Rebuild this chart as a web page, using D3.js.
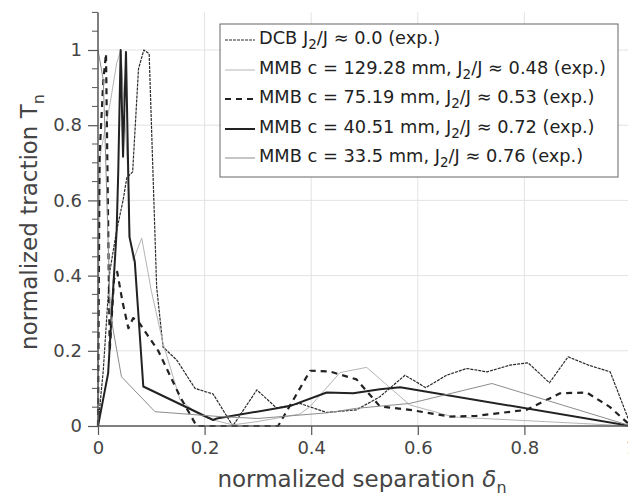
<!DOCTYPE html>
<html><head><meta charset="utf-8">
<script src="https://cdn.jsdelivr.net/npm/d3@7"></script>
<style>body{margin:0;background:#fff}svg{display:block;font-family:"DejaVu Sans",sans-serif}</style>
</head><body>
<svg id="c" width="628" height="497"></svg>
<script>
// ---- data ----
const seriesNames = ["DCB", "MMB c = 129.28 mm", "MMB c = 75.19 mm", "MMB c = 40.51 mm", "MMB c = 33.5 mm"];
const ratioLabels = ["0.0", "0.48", "0.53", "0.72", "0.76"];
const dcbX = [0,0.01,0.022,0.035,0.047,0.054,0.065,0.076,0.086,0.096,0.11,0.122,0.148,0.182,0.216,0.253,0.298,0.335,0.379,0.429,0.485,0.529,0.576,0.615,0.654,0.692,0.73,0.773,0.807,0.847,0.882,0.92,0.961,1.0];
const dcbY = [0,0.15,0.41,0.52,0.6,0.66,0.676,0.95,1.0,0.99,0.37,0.21,0.175,0.10,0.085,0.0,0.096,0.048,0.06,0.036,0.043,0.078,0.135,0.102,0.135,0.153,0.144,0.162,0.168,0.115,0.184,0.162,0.144,0.0];
const m129X = [0,0.002,0.004,0.023,0.035,0.043,0.057,0.06,0.066,0.082,0.1,0.122,0.154,0.191,0.216,0.253,0.3,0.379,0.398,0.454,0.504,0.585,0.667,1.0];
const m129Y = [0,0.5,0.72,0.86,0.965,1.0,0.654,0.5,0.44,0.5,0.36,0.22,0.069,0.029,0.016,0.003,0.012,0.032,0.052,0.142,0.156,0.056,0.024,0.0];
const m75X = [0,0.003,0.01,0.015,0.022,0.03,0.036,0.046,0.057,0.066,0.076,0.113,0.154,0.185,0.338,0.398,0.435,0.454,0.485,0.529,0.585,0.66,0.71,0.804,0.867,0.917,0.96,1.0];
const m75Y = [0,0.72,0.92,0.99,0.2,0.39,0.41,0.33,0.26,0.287,0.277,0.2,0.078,0.0,0.0,0.147,0.145,0.137,0.124,0.052,0.043,0.025,0.027,0.043,0.087,0.089,0.051,0.0];
const m40X = [0,0.019,0.035,0.038,0.0425,0.047,0.0525,0.059,0.069,0.085,0.216,0.223,0.36,0.429,0.479,0.529,0.567,1.0];
const m40Y = [0,0.14,0.52,0.676,1.0,0.716,0.995,0.503,0.437,0.105,0.016,0.02,0.053,0.089,0.087,0.098,0.103,0.0];
const m33X = [0,0.01,0.023,0.044,0.107,0.229,0.3,0.43,0.485,0.585,0.739,1.0];
const m33Y = [1.0,0.92,0.3,0.131,0.038,0.025,0.02,0.035,0.047,0.06,0.113,0.0];
const xTicks = [0,0.2,0.4,0.6,0.8,1];
const yTicks = [0,0.2,0.4,0.6,0.8,1];

// ---- layout ----
const svg = d3.select("#c");
const x = d3.scaleLinear().domain([0,1]).range([98,631]);
const y = d3.scaleLinear().domain([0,1.1]).range([426,12.4]);
const axisCol = "#555", textCol = "#444";

// grid
svg.append("g").selectAll("line.gx").data(xTicks.slice(1)).join("line")
  .attr("x1",d=>x(d)).attr("x2",d=>x(d)).attr("y1",y(0)).attr("y2",y(1.1))
  .attr("stroke","#e3e3e3").attr("stroke-width",1);
svg.append("g").selectAll("line.gy").data(yTicks.slice(1)).join("line")
  .attr("x1",x(0)).attr("x2",628).attr("y1",d=>y(d)).attr("y2",d=>y(d))
  .attr("stroke","#e3e3e3").attr("stroke-width",1);

// series
const series = [
  {xs:dcbX, ys:dcbY, stroke:"#2a2a2a", w:1.2, dash:"3,1"},
  {xs:m129X, ys:m129Y, stroke:"#b5b5b5", w:1, dash:null},
  {xs:m75X, ys:m75Y, stroke:"#222", w:2.2, dash:"6,5"},
  {xs:m40X, ys:m40Y, stroke:"#222", w:2, dash:null},
  {xs:m33X, ys:m33Y, stroke:"#8c8c8c", w:1, dash:null}
];
const line = d3.line().x(d=>x(d[0])).y(d=>y(d[1]));
series.forEach(s=>{
  svg.append("path").datum(s.xs.map((v,i)=>[v,s.ys[i]]))
    .attr("d",line).attr("fill","none").attr("stroke",s.stroke)
    .attr("stroke-width",s.w).attr("stroke-dasharray",s.dash)
    .attr("stroke-linejoin","round");
});

// axes
const xAxis = svg.append("g").attr("transform",`translate(0,${y(0)})`)
  .call(d3.axisBottom(x).tickValues(xTicks).tickFormat(d3.format("~g")).tickSize(9).tickPadding(6));
xAxis.select(".domain").remove();
svg.append("line").attr("x1",x(0)).attr("x2",628).attr("y1",y(0)).attr("y2",y(0)).attr("stroke",axisCol).attr("stroke-width",1.5);
const yAxis = svg.append("g").attr("transform",`translate(${x(0)},0)`)
  .call(d3.axisLeft(y).tickValues(yTicks).tickFormat(d3.format("~g")).tickSize(10).tickPadding(6));
yAxis.select(".domain").remove();
svg.append("g").selectAll("line").data(d3.range(0,23).map(i=>i*0.05).filter(v=>Math.abs(v*5-Math.round(v*5))>1e-6)).join("line")
  .attr("x1",x(0)-6).attr("x2",x(0)).attr("y1",d=>y(d)).attr("y2",d=>y(d)).attr("stroke",axisCol).attr("stroke-width",1);
svg.append("line").attr("x1",x(0)).attr("x2",x(0)).attr("y1",y(0)).attr("y2",y(1.1)).attr("stroke",axisCol).attr("stroke-width",1.5);
[xAxis,yAxis].forEach(a=>{
  a.selectAll(".tick line").attr("stroke",axisCol).attr("stroke-width",1.2);
  a.selectAll(".tick text").attr("fill",textCol).style("font-size","18px").style("font-family","DejaVu Sans");
});

// axis labels
const xl = svg.append("text").attr("x",362).attr("y",487).attr("text-anchor","middle")
  .attr("fill",textCol).style("font-size","23px").text("normalized separation ");
xl.append("tspan").style("font-style","italic").text("δ");
xl.append("tspan").attr("dy",6).style("font-size","16px").text("n");
const yl = svg.append("text").attr("transform","translate(37,222) rotate(-90)").attr("text-anchor","middle")
  .attr("fill",textCol).style("font-size","23px").text("normalized traction T");
yl.append("tspan").attr("dy",7).style("font-size","16px").text("n");

// legend
const lg = svg.append("g");
lg.append("rect").attr("x",220).attr("y",24).attr("width",398).attr("height",153)
  .attr("fill","#fff").attr("stroke","#666").attr("stroke-width",1);
const rowY = [38,68,97,127,156];
series.forEach((s,i)=>{
  lg.append("line").attr("x1",225).attr("x2",255).attr("y1",rowY[i]+2).attr("y2",rowY[i]+2)
    .attr("stroke",s.stroke).attr("stroke-width",s.w).attr("stroke-dasharray",s.dash);
  const t = lg.append("text").attr("x",259).attr("y",rowY[i]+6).attr("fill","#222").style("font-size","17.8px");
  t.append("tspan").text(seriesNames[i] + (i>0? ", J":" J"));
  t.append("tspan").attr("dy",5).style("font-size","13.5px").text("2");
  t.append("tspan").attr("dy",-5).text("/J ≈ " + ratioLabels[i] + " (exp.)");
});
</script>
</body></html>
